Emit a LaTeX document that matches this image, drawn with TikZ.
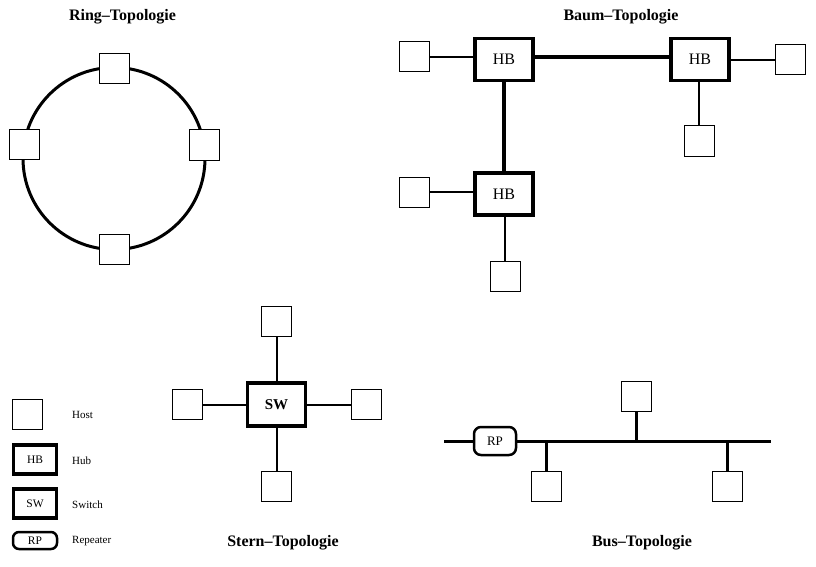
\documentclass[tikz,border=0pt]{standalone}
\usepackage{fontspec}
\setmainfont{Liberation Serif}
\begin{document}
\begin{tikzpicture}[x=1pt,y=-1pt,
  host/.style={draw,line width=1pt,minimum width=30pt,minimum height=30pt,inner sep=0pt,fill=white},
  hub/.style={draw,line width=3.5pt,minimum width=58pt,minimum height=42pt,inner sep=0pt,fill=white,font=\fontsize{16}{18}\selectfont},
  sw/.style={draw,line width=3.5pt,minimum width=58pt,minimum height=43pt,inner sep=0pt,fill=white,font=\fontsize{15}{17}\selectfont\bfseries},
  rp/.style={draw,line width=2.5pt,rounded corners=7pt,minimum width=42pt,minimum height=28pt,inner sep=0pt,fill=white,font=\fontsize{13}{15}\selectfont},
  lhub/.style={draw,line width=3.5pt,minimum width=43pt,minimum height=29pt,inner sep=0pt,font=\fontsize{11.5}{13}\selectfont},
  lrp/.style={draw,line width=2.5pt,rounded corners=6pt,minimum width=44pt,minimum height=17pt,inner sep=0pt,font=\fontsize{11.5}{13}\selectfont},
  ttl/.style={anchor=base,font=\fontsize{16}{18}\selectfont\bfseries},
  ltxt/.style={anchor=west,font=\fontsize{11}{13}\selectfont,inner sep=0pt},
  thin/.style={line width=2pt},
  thick/.style={line width=3.5pt},
]
\useasboundingbox (0,0) rectangle (816,567);

% Ring
\node[ttl] (tring) at (122.5,21) {Ring–Topologie};
\draw[line width=3pt] (114,158.5) circle[radius=91];
\node[host] (r1) at (114,69) {};
\node[host] (r2) at (24,144.5) {};
\node[host] (r3) at (204,145) {};
\node[host] (r4) at (114,249) {};

% Baum
\node[ttl] (tbaum) at (621,21) {Baum–Topologie};
\node[hub] (h1) at (504,59.5) {HB};
\node[hub] (h2) at (700,59.5) {HB};
\node[hub] (h3) at (504,194) {HB};
\node[host] (b1) at (414,57) {};
\node[host] (b2) at (790,60) {};
\node[host] (b3) at (699,141) {};
\node[host] (b4) at (414,192) {};
\node[host] (b5) at (505,276) {};
\draw[thin] (b1.east) -- (b1.east -| h1.west);
\draw[thick] (h1.east |- 0,57) -- (h2.west |- 0,57);
\draw[thin] (h2.east |- 0,60) -- (b2.west);
\draw[thin] (b3.north) -- (b3.north |- h2.south);
\draw[thick] (h1.south) -- (h3.north);
\draw[thin] (b4.east) -- (b4.east -| h3.west);
\draw[thin] (b5.north) -- (b5.north |- h3.south);

% Stern
\node[ttl] (tstern) at (283,546) {Stern–Topologie};
\node[sw] (s0) at (276.5,404.5) {SW};
\node[host] (s1) at (276.5,321) {};
\node[host] (s2) at (276.5,486) {};
\node[host] (s3) at (187,404.5) {};
\node[host] (s4) at (366,404.5) {};
\draw[thin] (s0.north) -- (s1.south);
\draw[thin] (s0.south) -- (s2.north);
\draw[thin] (s0.west) -- (s3.east);
\draw[thin] (s0.east) -- (s4.west);

% Bus
\node[ttl] (tbus) at (642,546) {Bus–Topologie};
\coordinate (bl) at (444,441);
\coordinate (br) at (771,441);
\node[rp] (rp) at (495,441) {RP};
\draw[line width=3pt] (bl) -- (rp.west);
\draw[line width=3pt] (rp.east) -- (br);
\node[host] (u1) at (636.5,396.5) {};
\node[host] (u2) at (546,486.5) {};
\node[host] (u3) at (727,486.5) {};
\draw[line width=3pt] (u1.south) -- (u1.south |- bl);
\draw[line width=3pt] (u2.north) -- (u2.north |- bl);
\draw[line width=3pt] (u3.north) -- (u3.north |- bl);

% Legend
\node[host] (lh) at (27.5,414) {};
\node[ltxt] (lht) at (72,415) {Host};
\node[lhub] (lb) at (35,459.5) {HB};
\node[ltxt] (lbt) at (72,461) {Hub};
\node[lhub] (ls) at (35,503.5) {SW};
\node[ltxt] (lst) at (72,505) {Switch};
\node[lrp] (lr) at (35,540.5) {RP};
\node[ltxt] (lrt) at (72,541) {Repeater};
\end{tikzpicture}
\end{document}
